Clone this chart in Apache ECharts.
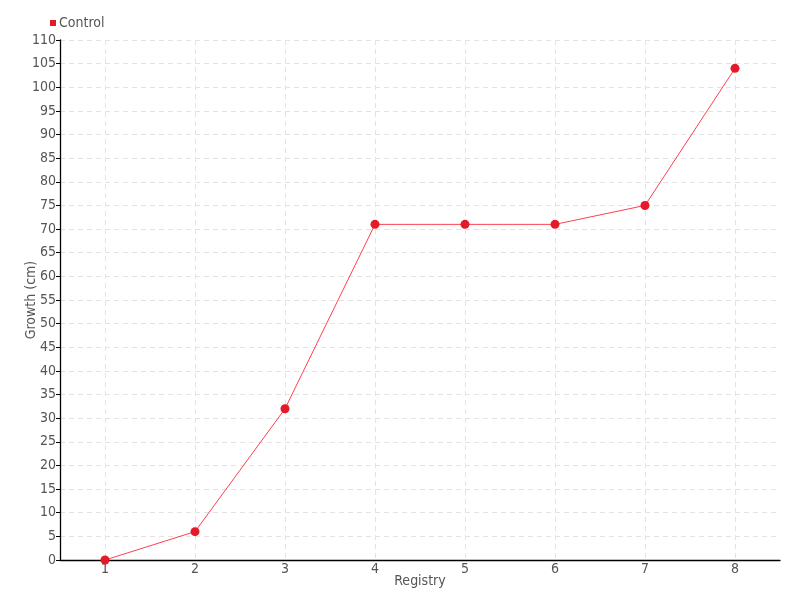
<!DOCTYPE html>
<html><head><meta charset="utf-8">
<script src="https://cdn.jsdelivr.net/npm/echarts@6/dist/echarts.min.js"></script>
<style>html,body{margin:0;padding:0;background:#fff}#c{width:800px;height:600px}</style>
</head><body><div id="c"></div>
<script>
const categories = ['1','2','3','4','5','6','7','8'];
const controlValues = [0, 6, 32, 71, 71, 71, 75, 104];
const seriesName = 'Control';
const FONT = '"DejaVu Sans Condensed", "Liberation Sans Narrow", sans-serif';
const chart = echarts.init(document.getElementById('c'));
chart.setOption({
  animation: false,
  textStyle: {fontFamily: FONT},
  legend: {
    left: 45, top: 11, itemWidth: 6, itemHeight: 6, itemGap: 5,
    icon: 'rect',
    textStyle: {fontFamily: FONT, fontSize: 14, color: '#555', padding: [0, 0, 0, -2]},
    data: [seriesName]
  },
  grid: {left: 60, right: 20, top: 40, bottom: 40, containLabel: false, outerBoundsMode: 'none'},
  xAxis: {
    type: 'category', data: categories, boundaryGap: true,
    name: 'Registry', nameLocation: 'middle', nameGap: 14, nameMoveOverlap: false,
    nameTextStyle: {fontFamily: FONT, fontSize: 14, color: '#555'},
    axisLine: {lineStyle: {color: '#000', width: 1.3}},
    axisTick: {alignWithLabel: true, length: 4, lineStyle: {color: '#000'}},
    axisLabel: {fontFamily: FONT, fontSize: 14, color: '#555', margin: 2},
    splitLine: {show: true, alignWithLabel: true, lineStyle: {color: '#e3e3e3', type: [5, 4]}}
  },
  yAxis: {
    type: 'value', min: 0, max: 110, interval: 5,
    name: 'Growth (cm)', nameLocation: 'middle', nameGap: 22, nameMoveOverlap: false,
    nameTextStyle: {fontFamily: FONT, fontSize: 14, color: '#555'},
    axisLine: {show: true, lineStyle: {color: '#000', width: 1.3}},
    axisTick: {show: true, length: 4, lineStyle: {color: '#000'}},
    axisLabel: {fontFamily: FONT, fontSize: 14, color: '#555', margin: 4},
    splitLine: {show: true, lineStyle: {color: '#e3e3e3', type: [5, 4]}}
  },
  series: [{
    name: seriesName, type: 'line', data: controlValues,
    symbol: 'circle', symbolSize: 9,
    itemStyle: {color: '#e31a2a'},
    lineStyle: {color: '#ff4050', width: 1}
  }]
});
</script></body></html>
